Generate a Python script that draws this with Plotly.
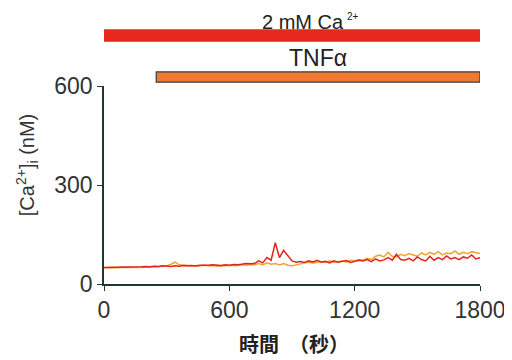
import plotly.graph_objects as go

time_s = list(range(0, 1801, 20))

ca_red = [50, 50, 51, 50, 52, 51, 50, 52, 51, 52, 53,
          52, 54, 53, 55, 54, 53, 55, 54, 56, 55,
          56, 55, 57, 56, 57, 58, 57, 56, 58, 57,
          59, 58, 60, 62, 61, 62, 70, 64, 80, 72,
          125, 80, 102, 85, 70, 66, 68, 65, 70, 67,
          72, 66, 69, 64, 70, 66, 68, 71, 65, 68,
          72, 70, 74, 68, 76, 70, 73, 80, 72, 90,
          74, 72, 78, 70, 82, 74, 70, 84, 72, 80,
          74, 85, 76, 80, 74, 82, 78, 88, 76, 80, 78]

ca_orange = [49, 50, 50, 49, 51, 50, 50, 51, 50, 51, 52,
             51, 53, 52, 54, 55, 60, 66, 58, 56, 55,
             56, 54, 55, 57, 55, 56, 54, 55, 56, 55,
             57, 56, 58, 57, 59, 58, 62, 58, 64, 60,
             62, 58, 62, 57, 55, 58, 62, 64, 66, 64,
             66, 68, 65, 70, 66, 68, 70, 66, 72, 70,
             74, 72, 78, 74, 84, 88, 82, 96, 84, 82,
             90, 86, 92, 88, 84, 94, 88, 96, 90, 98,
             88, 94, 92, 100, 90, 96, 92, 98, 94, 92, 95]

ca_label = "2 mM Ca"
ca_label_sup = "2+"
tnf_label = "TNFα"
treat_start = [0, 250]
treat_end = [1800, 1800]

x_ticks = [0, 600, 1200, 1800]
y_ticks = [0, 300, 600]

fig = go.Figure()
fig.add_trace(go.Scatter(x=time_s, y=ca_orange, mode="lines",
                         line=dict(color="#f2a230", width=1.5), showlegend=False))
fig.add_trace(go.Scatter(x=time_s, y=ca_red, mode="lines",
                         line=dict(color="#e3231b", width=1.5), showlegend=False))

bar_y = [(1.227, 1.283), (1.020, 1.071)]
bar_fill = ["#e8281e", "#ee7a32"]
bar_line = ["#e8281e", "#3a3a3a"]
for i in range(2):
    fig.add_shape(type="rect", xref="x", yref="paper",
                  x0=treat_start[i], x1=treat_end[i], y0=bar_y[i][0], y1=bar_y[i][1],
                  fillcolor=bar_fill[i], line=dict(color=bar_line[i], width=1.2))

# treatment labels
fig.add_annotation(x=1155, xref="x", y=1.263, yref="paper", xanchor="right",
                   yanchor="bottom", text=ca_label, showarrow=False, borderpad=0,
                   font=dict(size=20, color="#222222"))
fig.add_annotation(x=1160, xref="x", y=1.318, yref="paper", xanchor="left",
                   yanchor="bottom", text=ca_label_sup, showarrow=False, borderpad=0,
                   font=dict(size=10, color="#222222"))
fig.add_annotation(x=(treat_start[1] + treat_end[1]) / 2, xref="x", y=1.066,
                   yref="paper", yanchor="bottom", text=tnf_label, showarrow=False,
                   font=dict(size=23, color="#222222"))

axis_common = dict(showline=True, linecolor="#1e3838", linewidth=1.5,
                   ticks="outside", ticklen=5, tickcolor="#1e3838", tickwidth=1.2,
                   showgrid=False, zeroline=False, automargin=False,
                   tickfont=dict(size=23, color="#333333",
                                 family="Liberation Sans, Arial, sans-serif"))

fig.update_xaxes(range=[0, 1800], tickvals=x_ticks, **axis_common)
fig.update_yaxes(range=[0, 600], tickvals=y_ticks, **axis_common)

L, T = 96, 78
# axis titles
fig.add_annotation(x=910, xref="x", y=-0.3, yref="paper", yanchor="middle",
                   text="<b>時間　（秒）</b>", showarrow=False,
                   font=dict(size=20, color="#222222",
                             family="Noto Sans CJK TC, Noto Sans CJK SC, sans-serif"))
fig.add_annotation(x=(19 - L) / 376, xref="paper", y=0.60, yref="paper", xanchor="center",
                   yanchor="middle", textangle=-90,
                   text="[Ca<sup>2+</sup>]<sub>i</sub> (nM)", showarrow=False,
                   font=dict(size=20, color="#333333",
                             family="Liberation Sans, Arial, sans-serif"))

fig.update_layout(width=504, height=352, plot_bgcolor="white", paper_bgcolor="white",
                  margin=dict(l=L, r=32, t=T, b=76),
                  font=dict(family="Liberation Sans, Arial, sans-serif"))

fig.write_html("out.html")
